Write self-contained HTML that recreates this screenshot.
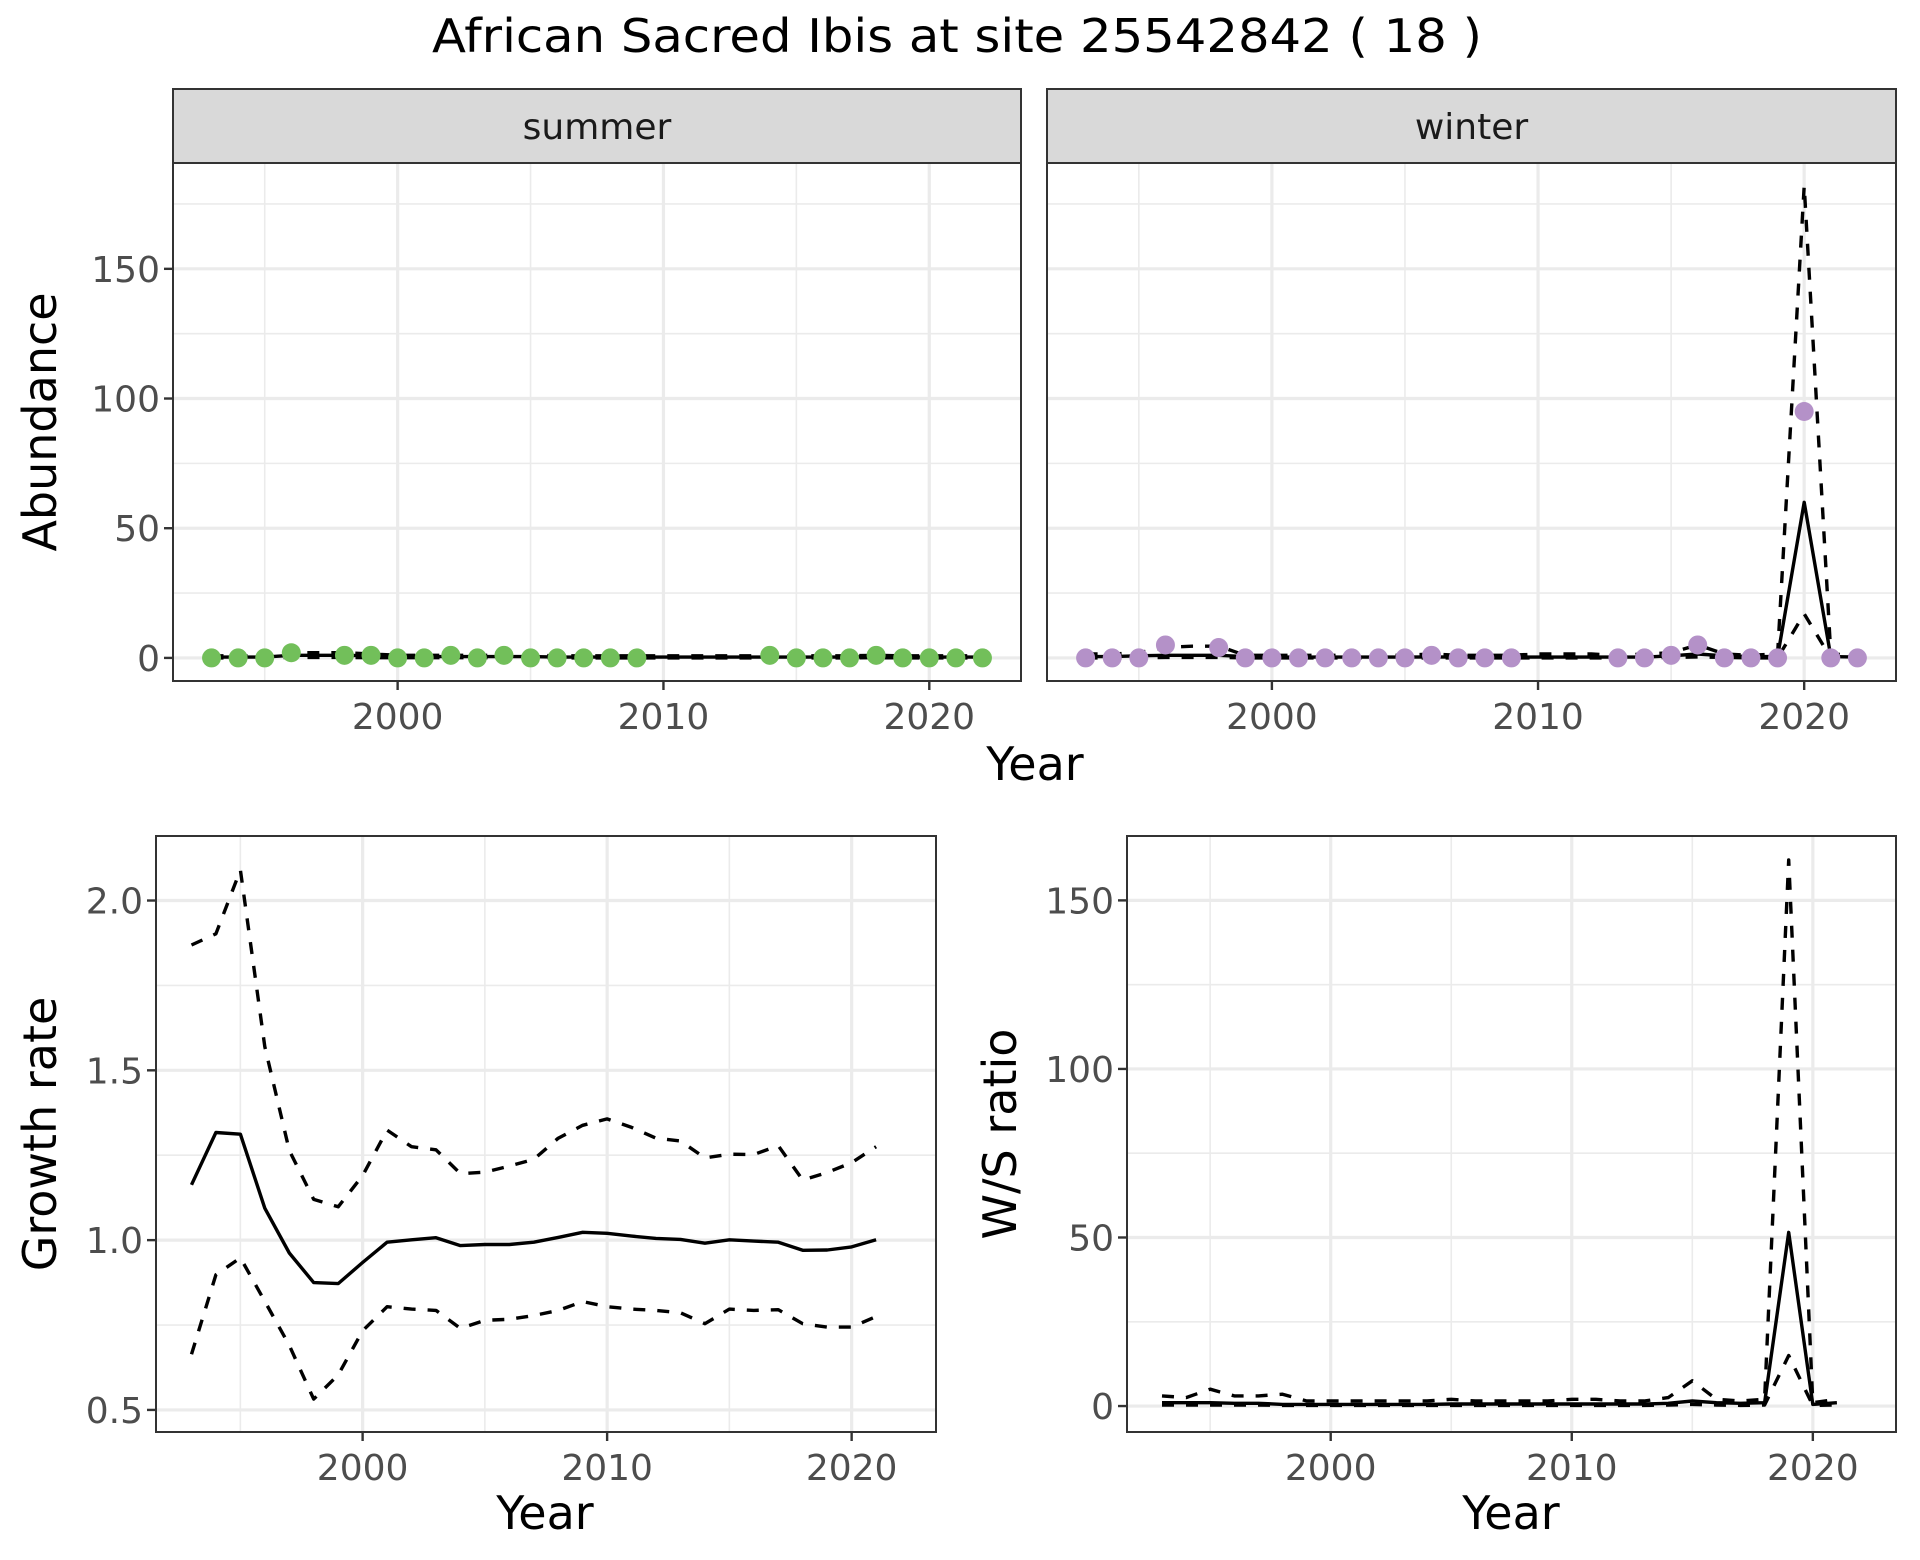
<!DOCTYPE html>
<html><head><meta charset="utf-8"><style>
body{margin:0;background:#fff;}
svg{display:block;font-family:"DejaVu Sans","Liberation Sans",sans-serif;}
</style></head><body>
<svg id="c" width="1920" height="1560" viewBox="0 0 1920 1560" xmlns="http://www.w3.org/2000/svg">
<text x="957" y="52" font-size="46" text-anchor="middle" textLength="1050" lengthAdjust="spacingAndGlyphs" fill="#000">African Sacred Ibis at site 25542842 ( 18 )</text>
</svg>
<script>
// ---- data ----
const yearsAll = [1993,1994,1995,1996,1997,1998,1999,2000,2001,2002,2003,2004,2005,2006,2007,2008,2009,2010,2011,2012,2013,2014,2015,2016,2017,2018,2019,2020,2021,2022];
const summerYears = [1993,1994,1995,1996,1998,1999,2000,2001,2002,2003,2004,2005,2006,2007,2008,2009,2014,2015,2016,2017,2018,2019,2020,2021,2022];
const summerCounts = [0,0,0,2,1,1,0,0,1,0,1,0,0,0,0,0,1,0,0,0,1,0,0,0,0];
const summerMid = [0.3,0.3,0.3,1,1,1,0.8,0.5,0.5,0.5,0.5,0.5,0.5,0.3,0.3,0.3,0.3,0.3,0.3,0.3,0.3,0.3,0.3,0.3,0.3,0.5,0.3,0.3,0.3,0.3];
const summerUp = [0.8,0.8,0.8,2,2,2,1.5,1,1,1,1,1,1,0.8,0.8,0.8,0.8,0.8,0.8,0.8,0.8,0.8,0.8,0.8,0.8,1,0.8,0.8,0.8,0.8];
const summerLo = [0,0,0,0.2,0.2,0.2,0.1,0.1,0.1,0.1,0.1,0.1,0.1,0,0,0,0,0,0,0,0,0,0,0,0,0.1,0,0,0,0];
const winterYears = [1993,1994,1995,1996,1998,1999,2000,2001,2002,2003,2004,2005,2006,2007,2008,2009,2013,2014,2015,2016,2017,2018,2019,2020,2021,2022];
const winterCounts = [0,0,0,5,4,0,0,0,0,0,0,0,1,0,0,0,0,0,1,5,0,0,0,95,0,0];
const winterMid = [0.5,0.5,0.8,1,1,1,0.5,0.3,0.3,0.3,0.3,0.3,0.3,0.4,0.3,0.3,0.3,0.3,0.3,0.3,0.3,0.3,0.8,1.5,0.8,0.5,0.5,60,0.5,0.3];
const winterUp = [1.5,1.5,2,4,4.5,4.5,1,1,1,1,1,1,1,1.5,1,1,1,1.5,1.5,1.5,1,1.5,2,5,1.5,1,1.5,182,1.5,1];
const winterLo = [0,0,0,0.2,0.2,0.2,0,0,0,0,0,0,0,0,0,0,0,0,0,0,0,0,0.2,0.4,0.2,0,0,17,0,0];
const growthYears = [1993,1994,1995,1996,1997,1998,1999,2000,2001,2002,2003,2004,2005,2006,2007,2008,2009,2010,2011,2012,2013,2014,2015,2016,2017,2018,2019,2020,2021];
const growthMid = [1.163,1.317,1.312,1.094,0.962,0.875,0.872,0.934,0.994,1.001,1.007,0.984,0.987,0.987,0.994,1.008,1.023,1.02,1.012,1.005,1.002,0.991,1.001,0.997,0.994,0.97,0.971,0.98,1.001];
const growthUp = [1.869,1.902,2.09,1.57,1.264,1.12,1.098,1.19,1.324,1.275,1.266,1.196,1.2,1.218,1.238,1.3,1.338,1.357,1.332,1.3,1.292,1.242,1.253,1.252,1.278,1.177,1.199,1.228,1.275];
const growthLo = [0.664,0.898,0.948,0.82,0.69,0.532,0.603,0.733,0.804,0.797,0.793,0.74,0.764,0.767,0.778,0.793,0.819,0.804,0.797,0.793,0.786,0.754,0.797,0.793,0.795,0.754,0.744,0.744,0.775];
const wsMid = [1,1,1,0.8,0.8,0.5,0.5,0.5,0.5,0.5,0.5,0.5,0.6,0.6,0.6,0.6,0.6,0.6,0.6,0.6,0.6,0.8,1.5,1,0.8,1,51.5,0.5,1];
const wsUp = [3,2.5,5,3,3,3.5,1.5,1.5,1.5,1.5,1.5,1.5,2,1.5,1.5,1.5,1.5,2,2,1.5,1.5,2.5,7.5,2,1.5,2,162,1,2];
const wsLo = [0.3,0.3,0.3,0.3,0.3,0.2,0.2,0.2,0.2,0.2,0.2,0.2,0.2,0.2,0.2,0.2,0.2,0.2,0.2,0.2,0.2,0.3,0.5,0.3,0.2,0.3,15,0.2,0.3];
const abundTicks = [0,50,100,150];
const growthTicks = [0.5,1.0,1.5,2.0];
const growthTickLabels = ["0.5","1.0","1.5","2.0"];
const wsTicks = [0,50,100,150];
const yearTicks = [2000,2010,2020];

const svg = document.getElementById('c');
const NS = 'http://www.w3.org/2000/svg';
function mk(tag, attrs, parent){const e=document.createElementNS(NS,tag);for(const k in attrs)e.setAttribute(k,attrs[k]);(parent||svg).appendChild(e);return e;}

function panel(p){
  const g = mk('g',{});
  
  
  const X = v => p.x0 + (v - p.xmin)/(p.xmax-p.xmin)*(p.x1-p.x0);
  const Y = v => p.y1 - (v - p.ymin)/(p.ymax-p.ymin)*(p.y1-p.y0);
  mk('rect',{x:p.x0,y:p.y0,width:p.x1-p.x0,height:p.y1-p.y0,fill:'#fff'},g);
  for(let i=0;i<p.yt.length-1;i++){const v=(p.yt[i]+p.yt[i+1])/2;mk('line',{x1:p.x0,x2:p.x1,y1:Y(v),y2:Y(v),stroke:'#ebebeb','stroke-width':1.6},g);}
  if(p.yt[p.yt.length-1]+ (p.yt[1]-p.yt[0])/2 < p.ymax){const v=p.yt[p.yt.length-1]+(p.yt[1]-p.yt[0])/2;mk('line',{x1:p.x0,x2:p.x1,y1:Y(v),y2:Y(v),stroke:'#ebebeb','stroke-width':1.6},g);}
  for(const v of [1995,2005,2015]){mk('line',{x1:X(v),x2:X(v),y1:p.y0,y2:p.y1,stroke:'#ebebeb','stroke-width':1.6},g);}
  for(const v of p.yt){mk('line',{x1:p.x0,x2:p.x1,y1:Y(v),y2:Y(v),stroke:'#ebebeb','stroke-width':3.2},g);}
  for(const v of yearTicks){mk('line',{x1:X(v),x2:X(v),y1:p.y0,y2:p.y1,stroke:'#ebebeb','stroke-width':3.2},g);}
  const line=(xs,ys,dash,nm)=>{const d=xs.map((x,i)=>(i?'L':'M')+X(x).toFixed(1)+','+Y(ys[i]).toFixed(1)).join(' ');
    const e=mk('path',{d:d,fill:'none',stroke:'#000','stroke-width':3.4,'stroke-dasharray':dash?'12,12':'none','stroke-linejoin':'round'},g);
    
    };
  line(p.lx,p.lo,true,'lower-bound-line');line(p.lx,p.up,true,'upper-bound-line');line(p.lx,p.mid,false,'estimate-line');
  if(p.px){p.px.forEach((x,i)=>{const c=mk('circle',{cx:X(x),cy:Y(p.py[i]),r:9.5,fill:p.col},g);
    
    });}
  mk('rect',{x:p.x0,y:p.y0,width:p.x1-p.x0,height:p.y1-p.y0,fill:'none',stroke:'#333','stroke-width':2},g);
  for(const v of yearTicks){mk('line',{x1:X(v),x2:X(v),y1:p.y1,y2:p.y1+9,stroke:'#333','stroke-width':2.4},g);
    const t=mk('text',{x:X(v),y:p.y1+48,'font-size':36,'text-anchor':'middle',fill:'#4d4d4d'},g);t.textContent=v;
    
    }
  if(p.showY){p.yt.forEach((v,i)=>{mk('line',{x1:p.x0-9,x2:p.x0,y1:Y(v),y2:Y(v),stroke:'#333','stroke-width':2.4},g);
    const t=mk('text',{x:p.x0-13,y:Y(v)+13,'font-size':36,'text-anchor':'end',fill:'#4d4d4d'},g);t.textContent=p.ytl?p.ytl[i]:v;
    
    });}
  if(p.strip){const s=mk('rect',{x:p.x0,y:89,width:p.x1-p.x0,height:74,fill:'#d9d9d9',stroke:'#333','stroke-width':2},g);
    
    
    const t=mk('text',{x:(p.x0+p.x1)/2,y:139,'font-size':36,'text-anchor':'middle',fill:'#1a1a1a'},g);t.textContent=p.strip;
    
    }
}
const xr = {xmin:1991.55,xmax:2023.45};
panel(Object.assign({name:'summer-panel',x0:173,x1:1021,y0:163,y1:681,ymin:-8.9,ymax:190.8,yt:abundTicks,showY:true,strip:'summer',
  lx:yearsAll,mid:summerMid,up:summerUp,lo:summerLo,px:summerYears,py:summerCounts,col:'#72bf5a'},xr));
panel(Object.assign({name:'winter-panel',x0:1047,x1:1896,y0:163,y1:681,ymin:-8.9,ymax:190.8,yt:abundTicks,showY:false,strip:'winter',
  lx:yearsAll,mid:winterMid,up:winterUp,lo:winterLo,px:winterYears,py:winterCounts,col:'#b491c8'},xr));
panel(Object.assign({name:'growth-panel',x0:156,x1:936,y0:836,y1:1432,ymin:0.435,ymax:2.19,yt:growthTicks,ytl:growthTickLabels,showY:true,
  lx:growthYears,mid:growthMid,up:growthUp,lo:growthLo},xr));
panel(Object.assign({name:'ws-ratio-panel',x0:1127,x1:1896,y0:836,y1:1432,ymin:-7.7,ymax:169.1,yt:wsTicks,showY:true,
  lx:growthYears,mid:wsMid,up:wsUp,lo:wsLo},xr));

function label(txt,x,y,rot,nm){const t=mk('text',{x:x,y:y,'font-size':46,'text-anchor':'middle',fill:'#000',transform:rot?`rotate(-90 ${x} ${y})`:''});t.textContent=txt;
  
  }
label('Abundance',56,422,true,'y-axis-title-abundance');
label('Year',1035,780,false,'x-axis-title-top');
label('Growth rate',56,1134,true,'y-axis-title-growth');
label('Year',545,1529,false,'x-axis-title-growth');
label('W/S ratio',1016,1134,true,'y-axis-title-ws');
label('Year',1511,1529,false,'x-axis-title-ws');
</script>
</body></html>
